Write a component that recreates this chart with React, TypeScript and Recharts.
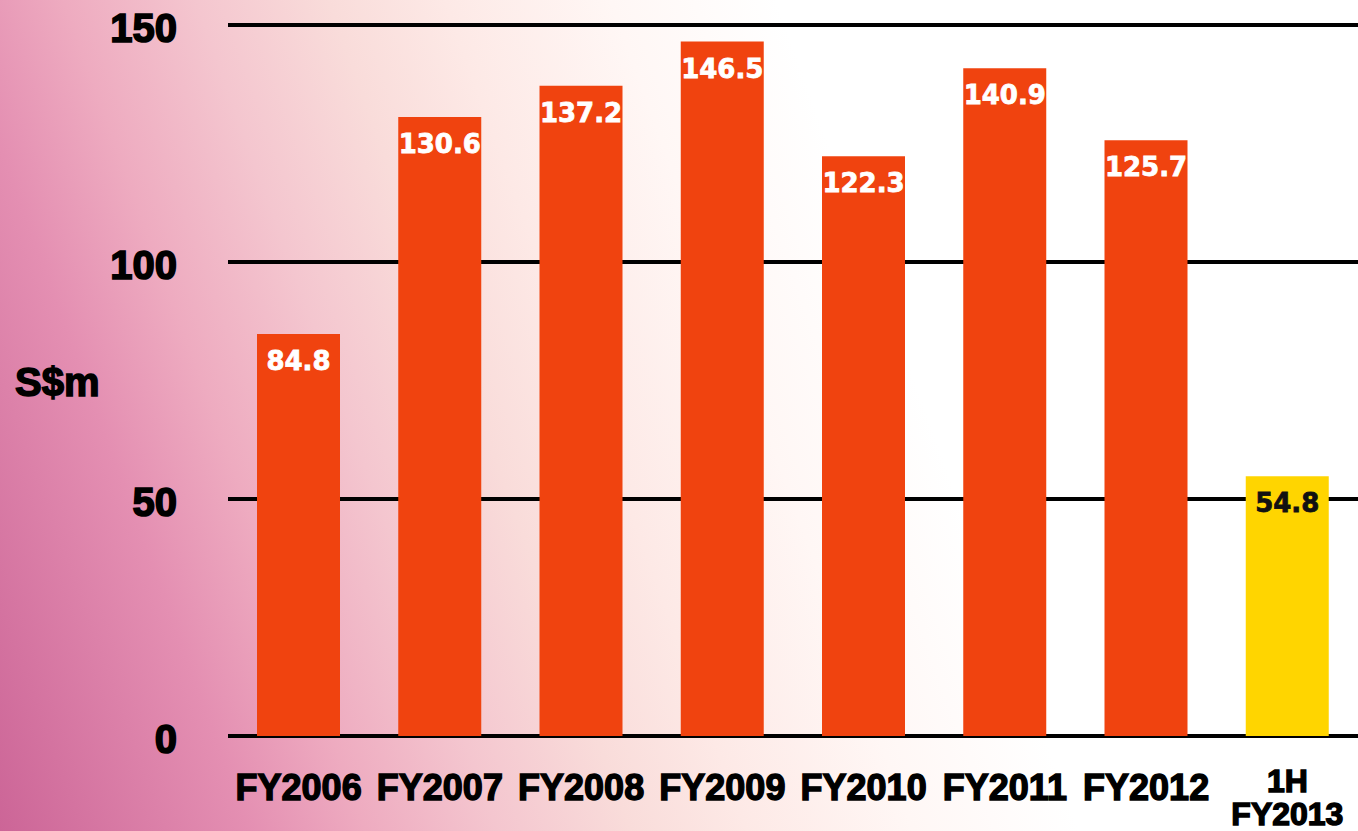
import React from "react";
import { BarChart, Bar, XAxis, YAxis, CartesianGrid, Cell, LabelList } from "recharts";

const categories = ["FY2006", "FY2007", "FY2008", "FY2009", "FY2010", "FY2011", "FY2012", "1H\nFY2013"];
const values = [84.8, 130.6, 137.2, 146.5, 122.3, 140.9, 125.7, 54.8];
const yTicks = [0, 50, 100, 150];
const yLabel = "S$m";

const data = categories.map((c, i) => ({ name: c, value: values[i] }));

const FONT = "'Liberation Sans', Arial, sans-serif";
const ORANGE = "#F0430F";
const YELLOW = "#FFD500";

const isHalf = (name: string) => name.startsWith("1H");

const XTick = (props: any) => {
  const { x, y, payload } = props;
  const lines = String(payload.value).split("\n");
  const multi = lines.length > 1;
  return (
    <text
      x={x}
      y={y + (multi ? 48 : 56)}
      textAnchor="middle"
      fill="#000"
      stroke="#000"
      strokeWidth={1.4}
      fontFamily={FONT}
      fontWeight="bold"
      fontSize={multi ? 32 : 36}
    >
      {lines.map((l, i) => (
        <tspan key={i} x={x} dy={i === 0 ? 0 : 33}>
          {l}
        </tspan>
      ))}
    </text>
  );
};

const YTick = (props: any) => {
  const { x, y, payload } = props;
  return (
    <text
      x={x}
      y={y + 17}
      textAnchor="end"
      fill="#000"
      stroke="#000"
      strokeWidth={1.6}
      fontFamily={FONT}
      fontWeight="bold"
      fontSize={40}
    >
      {payload.value}
    </text>
  );
};

const ValueLabel = (props: any) => {
  const { x, y, width, value, index } = props;
  const half = isHalf(categories[index]);
  return (
    <text
      x={x + width / 2}
      y={y + 36}
      textAnchor="middle"
      fill={half ? "#111" : "#fff"}
      stroke={half ? "#111" : "#fff"}
      strokeWidth={0.8}
      fontFamily="'DejaVu Sans', sans-serif"
      fontWeight="bold"
      fontSize={26}
    >
      {value.toFixed(1)}
    </text>
  );
};

export default function App() {
  return (
    <div
      style={{
        position: "absolute",
        left: 0,
        top: 0,
        width: 1358,
        height: 831,
        overflow: "hidden",
        background:
          "linear-gradient(70deg, #cc6597 0%, #e48fb2 15%, #eeabc0 22%, #f4c6cf 30%, #f9dcda 38%, #fde9e6 45%, #fff7f5 55%, #ffffff 65%)",
      }}
    >
      <div
        style={{
          position: "absolute",
          left: 15,
          top: 365,
          fontFamily: FONT,
          fontWeight: "bold",
          fontSize: 40,
          lineHeight: "34px",
          color: "#000",
          WebkitTextStroke: "1.5px #000",
        }}
      >
        {yLabel}
      </div>
      <div style={{ position: "absolute", left: 0, top: 0 }}>
        <BarChart
          width={1358}
          height={831}
          data={data}
          margin={{ top: 25, right: 0, left: 0, bottom: 0 }}
        >
          <CartesianGrid vertical={false} stroke="#000" strokeWidth={4} />
          <XAxis
            dataKey="name"
            height={95}
            axisLine={false}
            tickLine={false}
            interval={0}
            tick={<XTick />}
          />
          <YAxis
            width={228}
            domain={[0, 150]}
            ticks={yTicks}
            axisLine={false}
            tickLine={false}
            tickSize={0}
            tickMargin={51}
            tick={<YTick />}
          />
          <Bar dataKey="value" barSize={83} isAnimationActive={false}>
            {data.map((d, i) => (
              <Cell key={i} fill={isHalf(d.name) ? YELLOW : ORANGE} />
            ))}
            <LabelList dataKey="value" content={<ValueLabel />} />
          </Bar>
        </BarChart>
      </div>
    </div>
  );
}
